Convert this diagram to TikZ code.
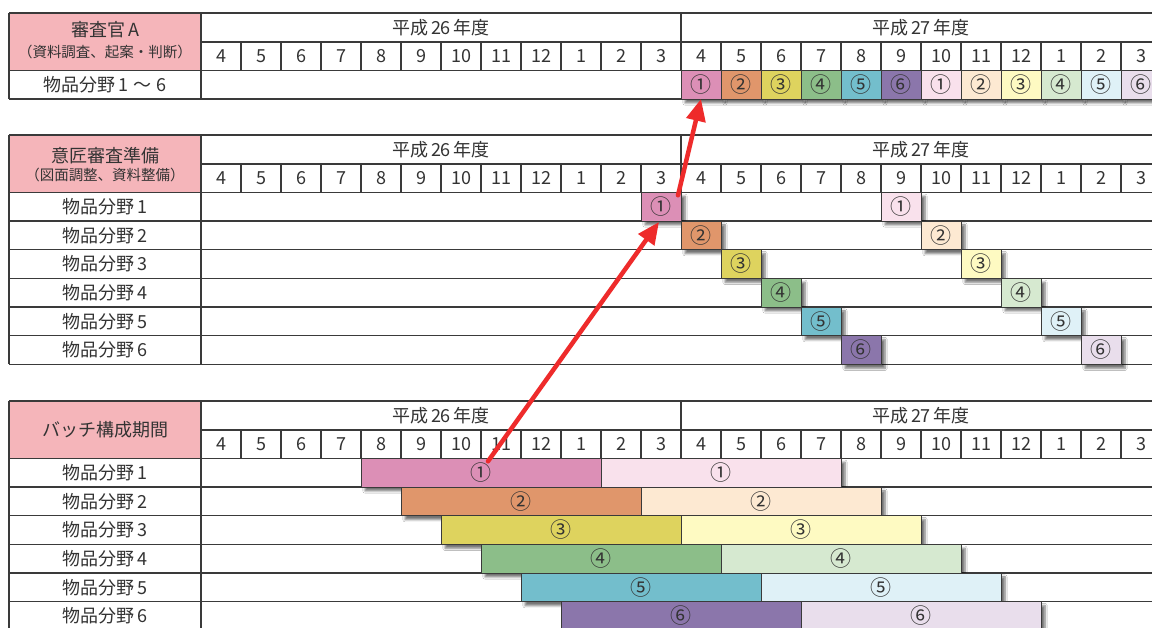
\documentclass[tikz,border=0pt]{standalone}
\usepackage{fontspec}
\setmainfont{Noto Sans CJK JP}
\usetikzlibrary{arrows.meta,shadows.blur}
\definecolor{hdr}{HTML}{F5B5BA}
\definecolor{gridc}{HTML}{3A3A3A}
\definecolor{txt}{HTML}{333333}
\definecolor{dA}{HTML}{DC8FB6}
\definecolor{dB}{HTML}{E0966B}
\definecolor{dC}{HTML}{DED35E}
\definecolor{dD}{HTML}{8CBE89}
\definecolor{dE}{HTML}{73BECC}
\definecolor{dF}{HTML}{8B76AB}
\definecolor{lA}{HTML}{F9E1EC}
\definecolor{lB}{HTML}{FDE9D2}
\definecolor{lC}{HTML}{FEFAC2}
\definecolor{lD}{HTML}{D6E9D0}
\definecolor{lE}{HTML}{DFF1F7}
\definecolor{lF}{HTML}{E9DEEC}
\definecolor{arr}{HTML}{EE2B2B}
\tikzset{
 gridline/.style={draw=gridc,line width=1.1pt},
 lbl/.style={text=txt,font=\fontsize{18}{20}\selectfont,inner sep=0pt},
 sublbl/.style={text=txt,font=\fontsize{14.5}{16}\selectfont,inner sep=0pt},
 blk/.style={draw=gridc,line width=0.8pt,outer sep=0pt,inner sep=0pt,anchor=north west,
   minimum height=28.67pt,text=txt,font=\fontsize{21}{22}\selectfont,
   blur shadow={shadow xshift=4pt,shadow yshift=-4pt,shadow blur steps=6,shadow opacity=55}},
 redarrow/.style={draw=arr,line width=4.5pt,line cap=round,-{Triangle[length=22pt,width=19pt]}},
}
\newcommand\tblframe[3]{%
 \pgfmathsetmacro\yA{#1+29}%
 \pgfmathsetmacro\yB{#1+57.3}%
 \pgfmathsetmacro\yE{#1+57.3+#2*28.67}%
 \fill[hdr] (9,#1) rectangle (201,\yB);
 \draw[gridline] (9,#1) -- (1160,#1);
 \draw[gridline] (201,\yA) -- (1160,\yA);
 \foreach \k in {0,...,#2} {\draw[gridline] (9,{\yB+\k*28.67}) -- (1160,{\yB+\k*28.67});}
 \draw[gridline] (9,#1) -- (9,\yE);
 \draw[gridline] (201,#1) -- (201,\yE);
 \draw[gridline] (681,#1) -- (681,\yA);
 \foreach \i in {1,...,23} {\draw[gridline] ({201+40*\i},\yA) -- ({201+40*\i},\yB);}
 \foreach \m [count=\i from 0] in {4,5,6,7,8,9,10,11,12,1,2,3,4,5,6,7,8,9,10,11,12,1,2,3}
   {\node[lbl] (#3-m\i) at ({221+40*\i},{(\yA+\yB)/2}) {\m};}
 \node[lbl] (#3-y26) at (441,{(#1+\yA)/2}) {平成\,26\,年度};
 \node[lbl] (#3-y27) at (921,{(#1+\yA)/2}) {平成\,27\,年度};
}
\begin{document}
\begin{tikzpicture}[x=1pt,y=-1pt]
\useasboundingbox (0,0) rectangle (1152,628);
\clip (0,0) rectangle (1152,628);
\fill[white] (0,0) rectangle (1152,628);

% ---------- Table 1 ----------
\tblframe{13}{1}{t1}
\node[lbl] (t1-title) at (105,30) {審査官\,A};
\node[sublbl] (t1-sub) at (105,51.5) {（資料調査、起案・判断）};
\node[lbl] (t1-r1) at (105,85) {物品分野\,1\;〜\;6};
\foreach \c/\n [count=\i from 0] in {dA/①,dB/②,dC/③,dD/④,dE/⑤,dF/⑥,lA/①,lB/②,lC/③,lD/④,lE/⑤,lF/⑥}
  {\node[blk,fill=\c,minimum width=40pt] (t1-b\i) at ({681+40*\i},70.3) {\n};}

% ---------- Table 2 ----------
\tblframe{135}{6}{t2}
\node[lbl] (t2-title) at (105,156) {意匠審査準備};
\node[sublbl] (t2-sub) at (105,174.5) {（図面調整、資料整備）};
\foreach \r in {1,...,6}
  {\node[lbl] (t2-r\r) at (105,{192.3+(\r-0.5)*28.67}) {物品分野\,\r};}
\foreach \r/\d/\l/\n in {1/dA/lA/①,2/dB/lB/②,3/dC/lC/③,4/dD/lD/④,5/dE/lE/⑤,6/dF/lF/⑥}{
  \node[blk,fill=\d,minimum width=40pt] (t2-d\r) at ({641+40*(\r-1)},{192.3+(\r-1)*28.67}) {\n};
  \node[blk,fill=\l,minimum width=40pt] (t2-l\r) at ({881+40*(\r-1)},{192.3+(\r-1)*28.67}) {\n};
}

% ---------- Table 3 ----------
\tblframe{401}{6}{t3}
\node[lbl] (t3-title) at (105,430) {バッチ構成期間};
\foreach \r in {1,...,6}
  {\node[lbl] (t3-r\r) at (105,{458.3+(\r-0.5)*28.67}) {物品分野\,\r};}
\foreach \r/\d/\l/\n in {1/dA/lA/①,2/dB/lB/②,3/dC/lC/③,4/dD/lD/④,5/dE/lE/⑤,6/dF/lF/⑥}{
  \node[blk,fill=\d,minimum width=240pt] (t3-d\r) at ({361+40*(\r-1)},{458.3+(\r-1)*28.67}) {\n};
  \node[blk,fill=\l,minimum width=240pt] (t3-l\r) at ({601+40*(\r-1)},{458.3+(\r-1)*28.67}) {\n};
}

% ---------- Arrows ----------
\draw[redarrow] ([shift={(7pt,-3pt)}]t3-d1.north) -- ([shift={(-2pt,-1pt)}]t2-d1.south);
\draw[redarrow] ([shift={(-3pt,-3pt)}]t2-d1.north east) -- (t1-b0.south);
\end{tikzpicture}
\end{document}
